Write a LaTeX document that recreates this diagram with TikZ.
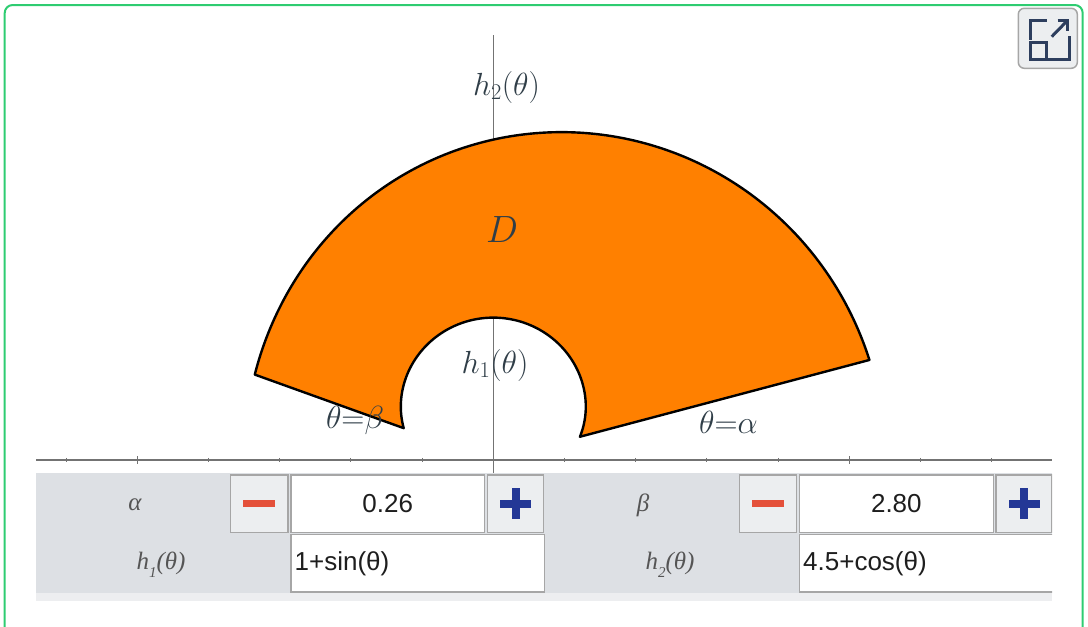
\RequirePackage{fix-cm}
\documentclass[tikz,border=0pt]{standalone}
\usepackage{fontspec}
\setmainfont{Liberation Serif}
\newfontfamily\uisans{Liberation Sans}
\newfontfamily\uiserif{Liberation Serif}
\definecolor{frameg}{RGB}{46,204,113}
\definecolor{regionor}{RGB}{255,128,0}
\definecolor{labelc}{RGB}{48,62,72}
\definecolor{axisc}{RGB}{115,115,115}
\definecolor{panelg}{RGB}{221,224,228}
\definecolor{panell}{RGB}{237,238,240}
\definecolor{boxline}{RGB}{166,166,166}
\definecolor{btnfill}{RGB}{236,238,240}
\definecolor{minusred}{RGB}{228,80,58}
\definecolor{plusblue}{RGB}{35,55,150}
\definecolor{iconc}{RGB}{45,62,94}
\definecolor{paneltxt}{RGB}{85,85,85}
\definecolor{valtxt}{RGB}{30,30,30}
\begin{document}
\begin{tikzpicture}[x=1pt,y=-1pt,
  mathlab/.style={text=labelc, inner sep=0pt, anchor=base},
  axisline/.style={draw=axisc, line width=1.5pt},
  btnbox/.style={draw=boxline, line width=1.2pt, fill=btnfill, inner sep=0pt, minimum width=57.5pt, minimum height=57.5pt},
  valbox/.style={draw=boxline, line width=1.2pt, fill=white, inner sep=0pt, minimum height=57.5pt,
     font=\uisans\fontsize{26}{30}\selectfont, text=valtxt},
  inbox/.style={draw=boxline, line width=1.2pt, fill=white, inner sep=0pt, minimum width=253.5pt, minimum height=57.5pt},
  intext/.style={font=\uisans\fontsize{26}{30}\selectfont, text=valtxt, inner sep=0pt, anchor=west},
  plab/.style={text=paneltxt, font=\uiserif\itshape\fontsize{25}{30}\selectfont, inner sep=0pt},
  minusbar/.style={fill=minusred, inner sep=0pt, minimum width=32pt, minimum height=7pt},
  plusbar/.style={fill=plusblue, inner sep=0pt},
  iconline/.style={draw=iconc, line width=3pt},
]
\useasboundingbox (0,0) rectangle (1088,627);
% frame
\begin{scope}
\clip (0,0) rectangle (1088,627);
\draw[frameg, line width=2pt, rounded corners=8pt] (4.7,5) rectangle (1082.7,660);
\end{scope}
% fullscreen button
\node[draw=boxline, line width=1.5pt, fill=btnfill, rounded corners=6pt, minimum width=59pt, minimum height=60pt, inner sep=0pt] (fsbtn) at (1047.8,38.3) {};
\draw[iconline] (1046.5,20) -- (1030,20) -- (1030,40);
\draw[iconline] (1030,42.5) rectangle (1046.5,59.3);
\draw[iconline] (1046.5,59.3) -- (1069.3,59.3) -- (1069.3,36);
\draw[iconline] (1051.7,36.7) -- (1066.5,21.5);
\draw[iconline] (1057.5,20.7) -- (1067.3,20.7) -- (1067.3,30.5);
% axes
\coordinate (O) at (493.3,460);
\coordinate (ytop) at (493.3,35);
\coordinate (ybot) at (493.3,473);
\coordinate (xl) at (36,460);
\coordinate (xr) at (1052,460);
\draw[axisline] (ytop) -- (ybot);
\draw[axisline] (xl) -- (xr);
\foreach \k in {-6,-4,-3,-2,-1,1,2,3,4,6,7}
  \draw[axisline, line width=1pt] ({493.3+71.2*\k},457.8) -- ++(0,4.4);
\foreach \k in {-5,5}
  \draw[axisline, line width=1.6pt] ({493.3+71.2*\k},456) -- ++(0,8);
% region D
\begin{scope}[shift={(O)}, x=71.2pt, y=71.2pt]
\filldraw[fill=regionor, draw=black, line width=2.4pt, line join=round]
  plot[domain=0.26:2.80, samples=160, variable=\t] ({(4.5+cos(\t r))*cos(\t r)}, {(4.5+cos(\t r))*sin(\t r)})
  -- plot[domain=2.80:0.26, samples=160, variable=\t] ({(1+sin(\t r))*cos(\t r)}, {(1+sin(\t r))*sin(\t r)})
  -- cycle;
\end{scope}
% labels
\node[mathlab] (lh2) at (506.5,95) {\fontsize{32}{36}\selectfont $h_2(\theta)$};
\node[mathlab] (lD) at (502,242) {\fontsize{38}{42}\selectfont $D$};
\node[mathlab] (lh1) at (495,373) {\fontsize{32}{36}\selectfont $h_1(\theta)$};
\node[mathlab] (lbeta) at (355,428) {\fontsize{32}{36}\selectfont $\theta{=}\beta$};
\node[mathlab] (lalpha) at (728.5,433) {\fontsize{32}{36}\selectfont $\theta{=}\alpha$};
% panel
\begin{scope}
\clip (36,470) rectangle (1052,602);
\fill[panelg] (36,472.5) rectangle (1052,592.7);
\fill[panell] (36,592.7) rectangle (1052,600.7);
% left controls
\node[plab] (pa) at (135,505) {α};
\node[plab] (ph1) at (161,565) {h\raisebox{-0.7ex}{\fontsize{15}{15}\selectfont 1}(θ)};
\node[btnbox] (m1) at (259.25,503.75) {};
\node[minusbar] (m1bar) at (m1.center) {};
\node[valbox, minimum width=193.5pt] (v1) at (387.75,503.75) {0.26};
\node[btnbox, minimum width=56pt] (p1) at (515.5,503.75) {};
\node[plusbar, minimum width=31pt, minimum height=8pt] (p1h) at (p1.center) {};
\node[plusbar, minimum width=8pt, minimum height=31pt] (p1v) at (p1.center) {};
\node[inbox] (i1) at (417.75,563.25) {};
\node[intext] (i1t) at (294.5,564) {1+sin(θ)};
% right controls
\node[plab] (pb) at (643,505) {β};
\node[plab] (ph2) at (670,565) {h\raisebox{-0.7ex}{\fontsize{15}{15}\selectfont 2}(θ)};
\node[btnbox] (m2) at (767.85,503.75) {};
\node[minusbar] (m2bar) at (m2.center) {};
\node[valbox, minimum width=193.5pt] (v2) at (896.35,503.75) {2.80};
\node[btnbox, minimum width=56pt] (p2) at (1024,503.75) {};
\node[plusbar, minimum width=31pt, minimum height=8pt] (p2h) at (p2.center) {};
\node[plusbar, minimum width=8pt, minimum height=31pt] (p2v) at (p2.center) {};
\node[inbox] (i2) at (926.35,563.25) {};
\node[intext] (i2t) at (803,564) {4.5+cos(θ)};
\end{scope}
\end{tikzpicture}
\end{document}
